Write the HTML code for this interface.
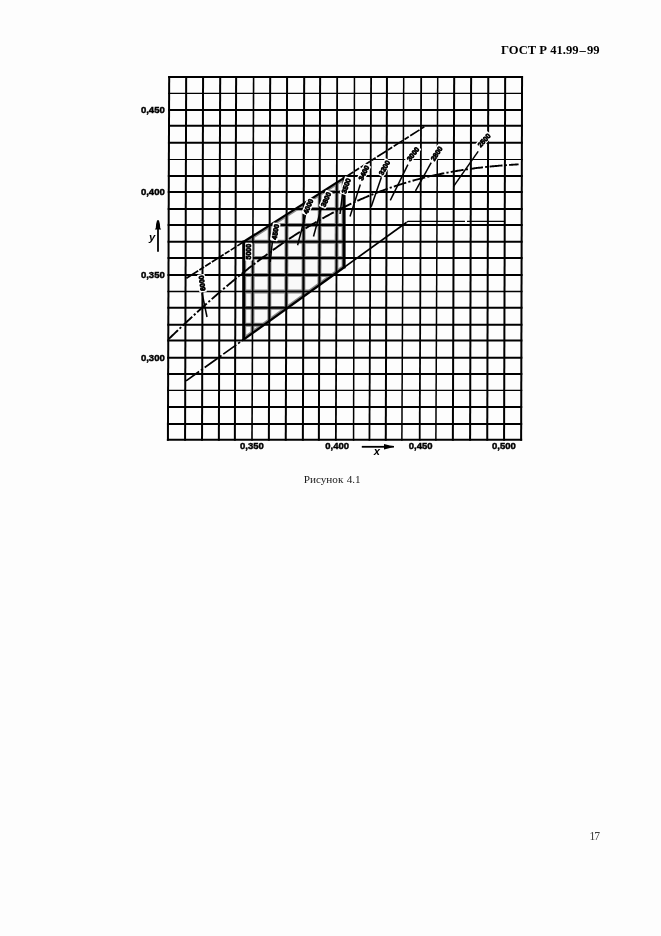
<!DOCTYPE html>
<html><head><meta charset="utf-8"><title>ГОСТ Р 41.99-99 — Рисунок 4.1</title>
<style>
html,body{margin:0;padding:0;background:#fdfdfd;}
body{width:661px;height:936px;position:relative;overflow:hidden;filter:grayscale(1);}
.hdr{position:absolute;left:500.5px;top:42.5px;font:bold 13.2px/1 "Liberation Serif",serif;color:#000;white-space:nowrap;transform-origin:0 0;transform:scaleX(0.955)}
.cap{position:absolute;left:303.7px;top:473.8px;font:11.2px/1 "Liberation Serif",serif;color:#1a1a1a;white-space:nowrap;word-spacing:0.6px}
.pg{position:absolute;left:589.4px;top:831.4px;font:11.6px/1 "Liberation Serif",serif;color:#3a3a3a;white-space:nowrap;letter-spacing:-0.9px}
svg{position:absolute;left:0;top:0}
.ax{font-family:"Liberation Sans",sans-serif;font-weight:bold;font-size:9.9px;fill:#000;stroke:#000;stroke-width:0.45px}
.axv{font-family:"Liberation Sans",sans-serif;font-style:italic;font-weight:bold;font-size:11.2px;fill:#000}
.iso{font-family:"Liberation Sans",sans-serif;font-weight:bold;font-size:7.0px;fill:#000;stroke:#000;stroke-width:0.75px}
</style></head><body>
<div class="hdr">ГОСТ Р 41.99<span style="margin:0 1.2px">–</span>99</div>
<svg width="661" height="936" viewBox="0 0 661 936">
<defs><clipPath id="rg"><polygon points="243.70,241.81 344.10,177.88 344.10,267.33 243.70,339.50"/></clipPath><filter id="bl" x="-5%" y="-5%" width="110%" height="110%"><feGaussianBlur stdDeviation="0.55"/></filter></defs>
<polygon points="243.70,241.81 344.10,177.88 344.10,267.33 243.70,339.50" fill="#f9f9f9"/>
<g clip-path="url(#rg)"><g filter="url(#bl)" stroke="#8a8a8a" stroke-width="3.9" fill="none"><line x1="169.18" y1="76.00" x2="167.91" y2="440.80"/><line x1="186.17" y1="76.00" x2="185.07" y2="440.80"/><line x1="203.07" y1="76.00" x2="202.03" y2="440.80"/><line x1="220.19" y1="76.00" x2="218.86" y2="440.80"/><line x1="236.13" y1="76.00" x2="234.86" y2="440.80"/><line x1="253.61" y1="76.00" x2="251.99" y2="440.80"/><line x1="270.19" y1="76.00" x2="268.86" y2="440.80"/><line x1="287.09" y1="76.00" x2="285.76" y2="440.80"/><line x1="304.19" y1="76.00" x2="302.86" y2="440.80"/><line x1="320.13" y1="76.00" x2="318.86" y2="440.80"/><line x1="337.19" y1="76.00" x2="335.86" y2="440.80"/><line x1="354.46" y1="76.00" x2="353.54" y2="440.80"/><line x1="371.11" y1="76.00" x2="369.43" y2="440.80"/><line x1="386.98" y1="76.00" x2="385.77" y2="440.80"/><line x1="403.72" y1="76.00" x2="401.87" y2="440.80"/><line x1="421.20" y1="76.00" x2="419.70" y2="440.80"/><line x1="437.72" y1="76.00" x2="435.87" y2="440.80"/><line x1="454.19" y1="76.00" x2="452.86" y2="440.80"/><line x1="471.12" y1="76.00" x2="470.08" y2="440.80"/><line x1="488.27" y1="76.00" x2="487.23" y2="440.80"/><line x1="505.17" y1="76.00" x2="504.07" y2="440.80"/><line x1="522.06" y1="76.00" x2="521.14" y2="440.80"/><line x1="168.18" y1="77.00" x2="523.06" y2="77.00"/><line x1="168.13" y1="93.40" x2="523.02" y2="93.40"/><line x1="168.07" y1="109.95" x2="522.98" y2="109.95"/><line x1="168.01" y1="125.80" x2="522.94" y2="125.80"/><line x1="167.95" y1="142.85" x2="522.89" y2="142.85"/><line x1="167.90" y1="159.45" x2="522.85" y2="159.45"/><line x1="167.84" y1="176.00" x2="522.81" y2="176.00"/><line x1="167.78" y1="192.00" x2="522.77" y2="192.00"/><line x1="167.72" y1="208.90" x2="522.72" y2="208.90"/><line x1="167.67" y1="224.95" x2="522.68" y2="224.95"/><line x1="167.61" y1="241.80" x2="522.64" y2="241.80"/><line x1="167.55" y1="257.90" x2="522.60" y2="257.90"/><line x1="167.49" y1="274.95" x2="522.56" y2="274.95"/><line x1="167.43" y1="291.50" x2="522.51" y2="291.50"/><line x1="167.37" y1="307.85" x2="522.47" y2="307.85"/><line x1="167.32" y1="324.80" x2="522.43" y2="324.80"/><line x1="167.26" y1="340.60" x2="522.39" y2="340.60"/><line x1="167.20" y1="357.80" x2="522.35" y2="357.80"/><line x1="167.14" y1="373.90" x2="522.30" y2="373.90"/><line x1="167.09" y1="390.40" x2="522.26" y2="390.40"/><line x1="167.03" y1="406.90" x2="522.22" y2="406.90"/><line x1="166.97" y1="423.95" x2="522.18" y2="423.95"/><line x1="166.91" y1="439.80" x2="522.14" y2="439.80"/><polygon points="243.70,241.81 344.10,177.88 344.10,267.33 243.70,339.50" stroke-width="5"/></g></g>
<g stroke="#000" stroke-width="2.0"><line x1="169.18" y1="76.00" x2="167.91" y2="440.80" stroke-width="2.0"/><line x1="186.17" y1="76.00" x2="185.07" y2="440.80" stroke-width="2.0"/><line x1="203.07" y1="76.00" x2="202.03" y2="440.80" stroke-width="2.0"/><line x1="220.19" y1="76.00" x2="218.86" y2="440.80" stroke-width="2.0"/><line x1="236.13" y1="76.00" x2="234.86" y2="440.80" stroke-width="2.0"/><line x1="253.61" y1="76.00" x2="251.99" y2="440.80" stroke-width="1.6"/><line x1="270.19" y1="76.00" x2="268.86" y2="440.80" stroke-width="2.0"/><line x1="287.09" y1="76.00" x2="285.76" y2="440.80" stroke-width="2.0"/><line x1="304.19" y1="76.00" x2="302.86" y2="440.80" stroke-width="2.0"/><line x1="320.13" y1="76.00" x2="318.86" y2="440.80" stroke-width="2.0"/><line x1="337.19" y1="76.00" x2="335.86" y2="440.80" stroke-width="1.8"/><line x1="354.46" y1="76.00" x2="353.54" y2="440.80" stroke-width="1.5"/><line x1="371.11" y1="76.00" x2="369.43" y2="440.80" stroke-width="1.8"/><line x1="386.98" y1="76.00" x2="385.77" y2="440.80" stroke-width="2.0"/><line x1="403.72" y1="76.00" x2="401.87" y2="440.80" stroke-width="1.5"/><line x1="421.20" y1="76.00" x2="419.70" y2="440.80" stroke-width="1.8"/><line x1="437.72" y1="76.00" x2="435.87" y2="440.80" stroke-width="1.5"/><line x1="454.19" y1="76.00" x2="452.86" y2="440.80" stroke-width="2.0"/><line x1="471.12" y1="76.00" x2="470.08" y2="440.80" stroke-width="2.0"/><line x1="488.27" y1="76.00" x2="487.23" y2="440.80" stroke-width="2.0"/><line x1="505.17" y1="76.00" x2="504.07" y2="440.80" stroke-width="2.0"/><line x1="522.06" y1="76.00" x2="521.14" y2="440.80" stroke-width="2.0"/><line x1="168.18" y1="77.00" x2="523.06" y2="77.00" stroke-width="2.0"/><line x1="168.13" y1="93.40" x2="523.02" y2="93.40" stroke-width="1.15"/><line x1="168.07" y1="109.95" x2="522.98" y2="109.95" stroke-width="2.0"/><line x1="168.01" y1="125.80" x2="522.94" y2="125.80" stroke-width="2.0"/><line x1="167.95" y1="142.85" x2="522.89" y2="142.85" stroke-width="2.0"/><line x1="167.90" y1="159.45" x2="522.85" y2="159.45" stroke-width="1.15"/><line x1="167.84" y1="176.00" x2="522.81" y2="176.00" stroke-width="2.0"/><line x1="167.78" y1="192.00" x2="522.77" y2="192.00" stroke-width="2.0"/><line x1="167.72" y1="208.90" x2="522.72" y2="208.90" stroke-width="2.0"/><line x1="167.67" y1="224.95" x2="522.68" y2="224.95" stroke-width="2.0"/><line x1="167.61" y1="241.80" x2="522.64" y2="241.80" stroke-width="2.0"/><line x1="167.55" y1="257.90" x2="522.60" y2="257.90" stroke-width="2.0"/><line x1="167.49" y1="274.95" x2="522.56" y2="274.95" stroke-width="2.0"/><line x1="167.43" y1="291.50" x2="522.51" y2="291.50" stroke-width="1.3"/><line x1="167.37" y1="307.85" x2="522.47" y2="307.85" stroke-width="2.0"/><line x1="167.32" y1="324.80" x2="522.43" y2="324.80" stroke-width="2.0"/><line x1="167.26" y1="340.60" x2="522.39" y2="340.60" stroke-width="2.0"/><line x1="167.20" y1="357.80" x2="522.35" y2="357.80" stroke-width="2.0"/><line x1="167.14" y1="373.90" x2="522.30" y2="373.90" stroke-width="2.0"/><line x1="167.09" y1="390.40" x2="522.26" y2="390.40" stroke-width="1.3"/><line x1="167.03" y1="406.90" x2="522.22" y2="406.90" stroke-width="2.0"/><line x1="166.97" y1="423.95" x2="522.18" y2="423.95" stroke-width="2.0"/><line x1="166.91" y1="439.80" x2="522.14" y2="439.80" stroke-width="2.0"/></g>
<polyline points="168.6,339.14 169.6,338.17 170.6,337.21 171.6,336.24 172.6,335.28 173.6,334.32 174.6,333.36 175.6,332.40 176.6,331.45 177.6,330.49 178.6,329.54 179.6,328.59 180.6,327.64 181.6,326.70 182.6,325.75 183.6,324.81 184.6,323.87 185.6,322.93 186.6,321.99 187.6,321.06 188.6,320.13 189.6,319.19 190.6,318.27 191.6,317.34 192.6,316.41 193.6,315.49 194.6,314.57 195.6,313.65 196.6,312.74 197.6,311.82 198.6,310.91 199.6,310.00 200.6,309.09 201.6,308.19 202.6,307.28 203.6,306.38 204.6,305.48 205.6,304.58 206.6,303.69 207.6,302.80 208.6,301.91 209.6,301.02 210.6,300.13 211.6,299.25 212.6,298.37 213.6,297.49 214.6,296.62 215.6,295.74 216.6,294.87 217.6,294.00 218.6,293.14 219.6,292.27 220.6,291.41 221.6,290.55 222.6,289.70 223.6,288.84 224.6,287.99 225.6,287.14 226.6,286.30 227.6,285.45 228.6,284.61 229.6,283.77 230.6,282.94 231.6,282.11 232.6,281.27 233.6,280.45 234.6,279.62 235.6,278.80 236.6,277.98 237.6,277.16 238.6,276.35 239.6,275.53 240.6,274.72 241.6,273.92 242.6,273.11 243.6,272.31 244.6,271.51 245.6,270.72 246.6,269.93 247.6,269.14 248.6,268.35 249.6,267.56 250.6,266.78 251.6,266.00 252.6,265.23 253.6,264.45 254.6,263.68 255.6,262.92 256.6,262.15 257.6,261.39 258.6,260.63 259.6,259.87 260.6,259.12 261.6,258.37 262.6,257.62 263.6,256.88 264.6,256.14 265.6,255.40 266.6,254.66 267.6,253.93 268.6,253.20 269.6,252.48 270.6,251.75 271.6,251.03 272.6,250.31 273.6,249.60 274.6,248.89 275.6,248.18 276.6,247.47 277.6,246.77 278.6,246.07 279.6,245.37 280.6,244.68 281.6,243.99 282.6,243.30 283.6,242.62 284.6,241.94 285.6,241.26 286.6,240.58 287.6,239.91 288.6,239.24 289.6,238.58 290.6,237.91 291.6,237.25 292.6,236.60 293.6,235.94 294.6,235.29 295.6,234.65 296.6,234.00 297.6,233.36 298.6,232.72 299.6,232.09 300.6,231.46 301.6,230.83 302.6,230.21 303.6,229.58 304.6,228.96 305.6,228.35 306.6,227.74 307.6,227.13 308.6,226.52 309.6,225.92 310.6,225.32 311.6,224.72 312.6,224.13 313.6,223.54 314.6,222.95 315.6,222.37 316.6,221.79 317.6,221.21 318.6,220.63 319.6,220.06 320.6,219.50 321.6,218.93 322.6,218.37 323.6,217.81 324.6,217.26 325.6,216.70 326.6,216.16 327.6,215.61 328.6,215.07 329.6,214.53 330.6,213.99 331.6,213.46 332.6,212.93 333.6,212.40 334.6,211.88 335.6,211.36 336.6,210.85 337.6,210.33 338.6,209.82 339.6,209.31 340.6,208.81 341.6,208.31 342.6,207.81 343.6,207.32 344.6,206.83 345.6,206.34 346.6,205.86 347.6,205.37 348.6,204.90 349.6,204.42 350.6,203.95 351.6,203.48 352.6,203.02 353.6,202.55 354.6,202.09 355.6,201.64 356.6,201.19 357.6,200.74 358.6,200.29 359.6,199.85 360.6,199.41 361.6,198.97 362.6,198.54 363.6,198.11 364.6,197.68 365.6,197.25 366.6,196.83 367.6,196.41 368.6,196.00 369.6,195.59 370.6,195.18 371.6,194.77 372.6,194.37 373.6,193.97 374.6,193.58 375.6,193.18 376.6,192.79 377.6,192.41 378.6,192.02 379.6,191.64 380.6,191.26 381.6,190.89 382.6,190.52 383.6,190.15 384.6,189.79 385.6,189.42 386.6,189.06 387.6,188.71 388.6,188.35 389.6,188.00 390.6,187.66 391.6,187.31 392.6,186.97 393.6,186.63 394.6,186.30 395.6,185.97 396.6,185.64 397.6,185.31 398.6,184.99 399.6,184.67 400.6,184.35 401.6,184.04 402.6,183.72 403.6,183.42 404.6,183.11 405.6,182.81 406.6,182.51 407.6,182.21 408.6,181.92 409.6,181.62 410.6,181.34 411.6,181.05 412.6,180.77 413.6,180.49 414.6,180.21 415.6,179.94 416.6,179.66 417.6,179.40 418.6,179.13 419.6,178.87 420.6,178.61 421.6,178.35 422.6,178.09 423.6,177.84 424.6,177.59 425.6,177.35 426.6,177.10 427.6,176.86 428.6,176.62 429.6,176.39 430.6,176.15 431.6,175.92 432.6,175.69 433.6,175.47 434.6,175.24 435.6,175.02 436.6,174.81 437.6,174.59 438.6,174.38 439.6,174.17 440.6,173.96 441.6,173.76 442.6,173.55 443.6,173.35 444.6,173.16 445.6,172.96 446.6,172.77 447.6,172.58 448.6,172.39 449.6,172.20 450.6,172.02 451.6,171.84 452.6,171.66 453.6,171.49 454.6,171.31 455.6,171.14 456.6,170.97 457.6,170.81 458.6,170.64 459.6,170.48 460.6,170.32 461.6,170.16 462.6,170.01 463.6,169.85 464.6,169.70 465.6,169.55 466.6,169.41 467.6,169.26 468.6,169.12 469.6,168.98 470.6,168.84 471.6,168.71 472.6,168.57 473.6,168.44 474.6,168.31 475.6,168.18 476.6,168.06 477.6,167.93 478.6,167.81 479.6,167.69 480.6,167.57 481.6,167.46 482.6,167.34 483.6,167.23 484.6,167.12 485.6,167.01 486.6,166.90 487.6,166.80 488.6,166.70 489.6,166.59 490.6,166.49 491.6,166.40 492.6,166.30 493.6,166.21 494.6,166.11 495.6,166.02 496.6,165.93 497.6,165.84 498.6,165.76 499.6,165.67 500.6,165.59 501.6,165.51 502.6,165.43 503.6,165.35 504.6,165.27 505.6,165.20 506.6,165.12 507.6,165.05 508.6,164.98 509.6,164.91 510.6,164.84 511.6,164.77 512.6,164.71 513.6,164.64 514.6,164.58 515.6,164.51 516.6,164.45 517.6,164.39 518.6,164.33" fill="none" stroke="#000" stroke-width="1.9" stroke-dasharray="13 2.2 2.2 2.2"/>
<line x1="186.4" y1="278.3" x2="243.70" y2="241.81" stroke="#000" stroke-width="1.7" stroke-dasharray="14 1.4 5.5 1.4 6.5 1.4"/>
<line x1="344.10" y1="177.88" x2="424.3" y2="126.81" stroke="#000" stroke-width="1.7" stroke-dasharray="11 1.8 5 1.8"/>
<line x1="186.1" y1="380.9" x2="243.70" y2="339.50" stroke="#000" stroke-width="1.7" stroke-dasharray="16 2.2 2.5 2.2"/>
<polyline points="344.10,267.33 406.4,222.55" fill="none" stroke="#000" stroke-width="1.7"/>
<polyline points="406.4,222.55 408,221.4 465,221.4" fill="none" stroke="#000" stroke-width="1.1"/>
<line x1="467" y1="221.4" x2="504" y2="221.4" stroke="#000" stroke-width="1.1"/>
<line x1="242.90" y1="242.32" x2="344.90" y2="177.37" stroke="#000" stroke-width="2.3"/>
<line x1="242.90" y1="340.07" x2="344.90" y2="266.75" stroke="#000" stroke-width="2.3"/>
<line x1="344.1" y1="176.88" x2="344.1" y2="268.33" stroke="#000" stroke-width="3"/>
<line x1="202" y1="293" x2="207" y2="317" stroke="#000" stroke-width="1.5"/>
<line x1="272.5" y1="241" x2="270.2" y2="262" stroke="#000" stroke-width="1.5"/>
<line x1="305.5" y1="215" x2="297.6" y2="245.3" stroke="#000" stroke-width="1.5"/>
<line x1="321.4" y1="207.5" x2="313.5" y2="236.5" stroke="#000" stroke-width="1.5"/>
<line x1="342.5" y1="194" x2="340" y2="214" stroke="#000" stroke-width="1.5"/>
<line x1="360.3" y1="184.4" x2="350" y2="216.4" stroke="#000" stroke-width="1.5"/>
<line x1="381.4" y1="177.3" x2="371.2" y2="206.8" stroke="#000" stroke-width="1.5"/>
<line x1="407.9" y1="164.7" x2="390.3" y2="200.3" stroke="#000" stroke-width="1.5"/>
<line x1="431.2" y1="162.6" x2="415.5" y2="190.8" stroke="#000" stroke-width="1.5"/>
<line x1="478.2" y1="151.4" x2="453.4" y2="186.6" stroke="#000" stroke-width="1.5"/>
<g transform="translate(202.0,283.2) rotate(-98)"><rect x="-9.0" y="-3.9" width="18.0" height="7.8" rx="1.2" fill="#fff"/><text x="0" y="2.55" text-anchor="middle" class="iso">6000</text></g>
<g transform="translate(248.6,251.7) rotate(-90)"><rect x="-9.0" y="-3.9" width="18.0" height="7.8" rx="1.2" fill="#fff"/><text x="0" y="2.55" text-anchor="middle" class="iso">5000</text></g>
<g transform="translate(275.3,231.8) rotate(-80)"><rect x="-9.0" y="-3.9" width="18.0" height="7.8" rx="1.2" fill="#fff"/><text x="0" y="2.55" text-anchor="middle" class="iso">4500</text></g>
<g transform="translate(308.2,206.3) rotate(-67)"><rect x="-9.0" y="-3.9" width="18.0" height="7.8" rx="1.2" fill="#fff"/><text x="0" y="2.55" text-anchor="middle" class="iso">4000</text></g>
<g transform="translate(325.9,199.4) rotate(-66)"><rect x="-9.0" y="-3.9" width="18.0" height="7.8" rx="1.2" fill="#fff"/><text x="0" y="2.55" text-anchor="middle" class="iso">3800</text></g>
<g transform="translate(346,185.8) rotate(-72)"><rect x="-9.0" y="-3.9" width="18.0" height="7.8" rx="1.2" fill="#fff"/><text x="0" y="2.55" text-anchor="middle" class="iso">3500</text></g>
<g transform="translate(363.8,172.8) rotate(-63)"><rect x="-9.0" y="-3.9" width="18.0" height="7.8" rx="1.2" fill="#fff"/><text x="0" y="2.55" text-anchor="middle" class="iso">3400</text></g>
<g transform="translate(384.3,167.7) rotate(-61)"><rect x="-9.0" y="-3.9" width="18.0" height="7.8" rx="1.2" fill="#fff"/><text x="0" y="2.55" text-anchor="middle" class="iso">3200</text></g>
<g transform="translate(412.9,154.0) rotate(-52)"><rect x="-9.0" y="-3.9" width="18.0" height="7.8" rx="1.2" fill="#fff"/><text x="0" y="2.55" text-anchor="middle" class="iso">3000</text></g>
<g transform="translate(436.5,153.5) rotate(-57)"><rect x="-9.0" y="-3.9" width="18.0" height="7.8" rx="1.2" fill="#fff"/><text x="0" y="2.55" text-anchor="middle" class="iso">2800</text></g>
<g transform="translate(484.0,140.2) rotate(-48)"><rect x="-9.0" y="-3.9" width="18.0" height="7.8" rx="1.2" fill="#fff"/><text x="0" y="2.55" text-anchor="middle" class="iso">2500</text></g>
<line x1="243.7" y1="240.61" x2="243.7" y2="340.70" stroke="#000" stroke-width="3"/>
<text x="140.9" y="113.4" textLength="23.9" lengthAdjust="spacingAndGlyphs" class="ax">0,450</text>
<text x="140.9" y="195.2" textLength="23.9" lengthAdjust="spacingAndGlyphs" class="ax">0,400</text>
<text x="140.9" y="278.2" textLength="23.9" lengthAdjust="spacingAndGlyphs" class="ax">0,350</text>
<text x="140.9" y="360.7" textLength="23.9" lengthAdjust="spacingAndGlyphs" class="ax">0,300</text>
<text x="240.0" y="448.7" textLength="23.8" lengthAdjust="spacingAndGlyphs" class="ax">0,350</text>
<text x="325.3" y="448.7" textLength="23.8" lengthAdjust="spacingAndGlyphs" class="ax">0,400</text>
<text x="408.8" y="448.7" textLength="23.8" lengthAdjust="spacingAndGlyphs" class="ax">0,450</text>
<text x="492.0" y="448.7" textLength="23.8" lengthAdjust="spacingAndGlyphs" class="ax">0,500</text>
<line x1="158" y1="251.7" x2="158" y2="226" stroke="#000" stroke-width="1.8"/>
<polygon points="157.1,220.2 158.9,220.2 159.9,224 160.2,228 161.2,229.6 154.8,229.6 155.8,228 156.1,224" fill="#000"/>
<text x="152.0" y="240.6" class="axv" text-anchor="middle">y</text>
<line x1="361.8" y1="446.8" x2="386" y2="446.8" stroke="#000" stroke-width="1.8"/>
<polygon points="384,444 384,449.6 390,448 394,447.6 394,446 390,445.6" fill="#000"/>
<text x="376.8" y="455.4" class="axv" text-anchor="middle">x</text>
</svg>
<div class="cap">Рисунок 4.1</div>
<div class="pg">17</div>
</body></html>
